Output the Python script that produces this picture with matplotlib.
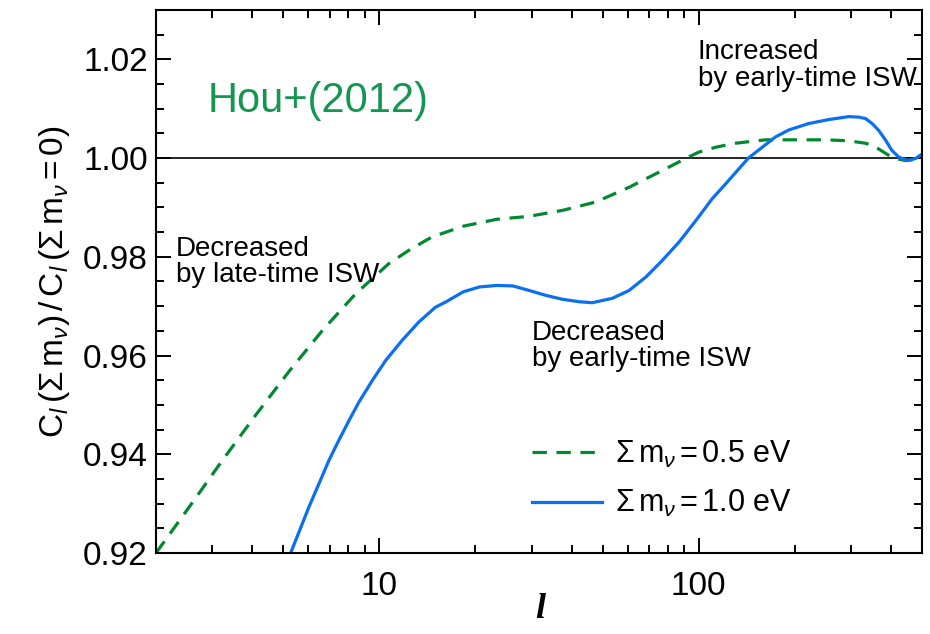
import matplotlib
matplotlib.use('Agg')
import matplotlib.pyplot as plt
from matplotlib.ticker import FixedLocator, MultipleLocator, NullFormatter, FixedFormatter, FormatStrFormatter

# ratio C_l(sum m_nu) / C_l(sum m_nu = 0)
ell_05 = [2.0, 2.54, 3.23, 4.11, 5.22, 6.64, 8.43, 9.52, 10.7, 12.5, 14.6, 18.3,
          23.3, 29.4, 37.4, 47.6, 60.6, 77.0, 91.5, 100, 113, 130, 161.6, 206,
          250, 295, 333, 355, 375, 395, 414, 444, 470, 500]
ratio_05 = [0.9200, 0.9293, 0.9388, 0.9480, 0.9568, 0.9651, 0.9725, 0.9756, 0.9786,
            0.9815, 0.9840, 0.9862, 0.9876, 0.9882, 0.9894, 0.9911, 0.9941, 0.9975,
            1.0000, 1.0012, 1.0022, 1.0030, 1.0037, 1.0037, 1.0037, 1.0035, 1.0030,
            1.0024, 1.0014, 1.0005, 0.9999, 0.9995, 0.9997, 1.0003]

ell_10 = [5.28, 5.61, 6.02, 6.48, 6.96, 7.48, 8.05, 8.64, 9.52, 10.47, 11.8, 13.3,
          15.0, 16.2, 18.3, 20.6, 23.3, 26.2, 29.4, 33.2, 37.4, 42.3, 46.4, 53.7,
          60.6, 68.3, 77.0, 86.8, 98.1, 110.3, 121.5, 143, 174, 191.5, 221, 255,
          295, 317, 333, 349, 366, 384, 402, 423, 449, 477, 500]
ratio_10 = [0.9200, 0.9243, 0.9293, 0.9341, 0.9388, 0.9429, 0.9469, 0.9506, 0.9550,
            0.9590, 0.9631, 0.9668, 0.9698, 0.9709, 0.9729, 0.9739, 0.9742, 0.9741,
            0.9732, 0.9722, 0.9714, 0.9709, 0.9707, 0.9716, 0.9732, 0.9759, 0.9793,
            0.9830, 0.9874, 0.9918, 0.9948, 1.0000, 1.0043, 1.0057, 1.0070, 1.0078,
            1.0084, 1.0083, 1.0080, 1.0070, 1.0056, 1.0037, 1.0016, 1.0002, 0.9995,
            0.9999, 1.0008]

labels = [r'$\Sigma\,$m$_\nu$$\,$=$\,$0.5 eV', r'$\Sigma\,$m$_\nu$$\,$=$\,$1.0 eV']
xticks = [10, 100]
xtick_labels = ['10', '100']

plt.rcParams['font.family'] = ['Liberation Sans', 'DejaVu Sans']
plt.rcParams['mathtext.fontset'] = 'custom'
plt.rcParams['mathtext.rm'] = 'Liberation Sans'
plt.rcParams['mathtext.it'] = 'Liberation Sans:italic'
plt.rcParams['mathtext.sf'] = 'Liberation Sans'

fig = plt.figure(figsize=(9.3, 6.34), dpi=100)
ax = fig.add_axes([156 / 930, 1 - 553 / 634, 766 / 930, 543 / 634])

ax.axhline(1.0, color='black', lw=1.2, zorder=1)
ax.plot(ell_05, ratio_05, color='#00892f', lw=2.3, linestyle=(0, (4.5, 3)), label=labels[0])
ax.plot(ell_10, ratio_10, color='#0a6ff0', lw=2.3, label=labels[1])

ax.set_xscale('log')
ax.set_xlim(2, 500)
ax.set_ylim(0.92, 1.03)

ax.xaxis.set_major_locator(FixedLocator(xticks))
ax.xaxis.set_major_formatter(FixedFormatter(xtick_labels))
ax.xaxis.set_minor_formatter(NullFormatter())
ax.yaxis.set_major_locator(MultipleLocator(0.02))
ax.yaxis.set_minor_locator(MultipleLocator(0.005))
ax.yaxis.set_major_formatter(FormatStrFormatter('%.2f'))

ax.tick_params(which='both', direction='in', top=True, right=True, width=1.4)
ax.tick_params(which='major', length=11, labelsize=24)
ax.tick_params(which='minor', length=6)
ax.tick_params(axis='x', pad=13)
ax.tick_params(axis='y', pad=6)
for s in ax.spines.values():
    s.set_linewidth(1.5)

ax.set_ylabel(r'C$_l\,$($\Sigma\,$m$_\nu$)$\,$/$\,$C$_l\,$($\Sigma\,$m$_\nu$$\,$=$\,$0)',
              fontsize=24, labelpad=8)
fig.text(540 / 930, 1 - 610 / 634, 'l', family='Liberation Serif', style='italic',
         weight='bold', fontsize=26, ha='center', va='center')

ax.text(0.068, 0.812, 'Hou+(2012)', transform=ax.transAxes, color='#129650',
        fontsize=30, va='baseline')
ax.text(0.026, 0.584, 'Decreased\nby late-time ISW', transform=ax.transAxes,
        fontsize=20, va='top', linespacing=1.02)
ax.text(0.491, 0.430, 'Decreased\nby early-time ISW', transform=ax.transAxes,
        fontsize=20, va='top', linespacing=1.02)
ax.text(0.707, 0.946, 'Increased\nby early-time ISW', transform=ax.transAxes,
        fontsize=20, va='top', linespacing=1.02)

ax.legend(loc='center left', bbox_to_anchor=(0.491, 0.136), frameon=False,
          fontsize=22, handlelength=2.3, handletextpad=0.4, borderpad=0,
          borderaxespad=0, labelspacing=0.6)

fig.savefig('out.png', dpi=100)
